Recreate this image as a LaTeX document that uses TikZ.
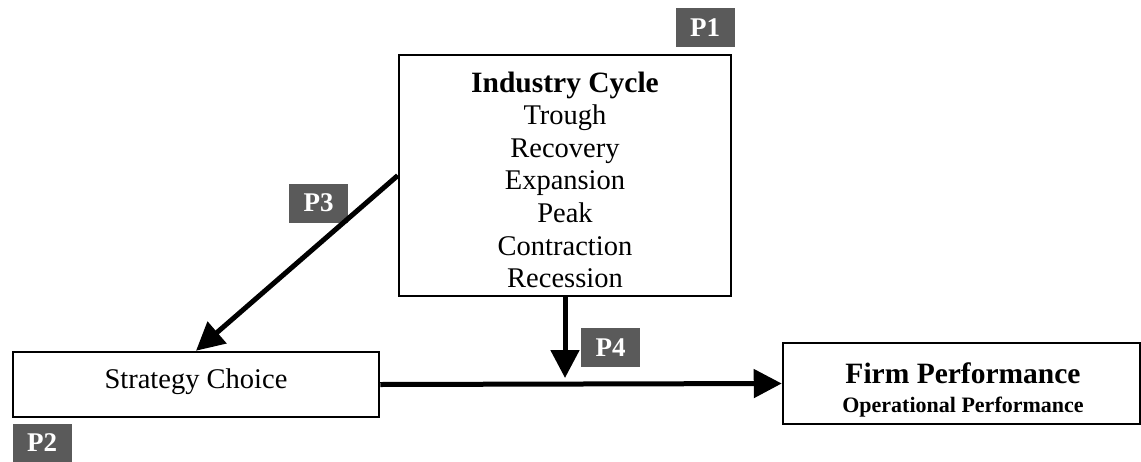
\documentclass[tikz,border=0pt]{standalone}
\usepackage{fontspec}
\setmainfont{Liberation Serif}
\usetikzlibrary{arrows.meta,calc}
\definecolor{pgray}{HTML}{5A5A5A}
\begin{document}
\begin{tikzpicture}[x=1pt,y=-1pt,
  box/.style={draw=black,line width=2.5pt,fill=white,inner sep=0pt},
  txt/.style={anchor=base,inner sep=0pt,font=\fontsize{28.5}{32}\selectfont},
  ttl/.style={anchor=base,inner sep=0pt,font=\fontsize{29.5}{32}\selectfont\bfseries},
  sub/.style={anchor=base,inner sep=0pt,font=\fontsize{22}{24}\selectfont\bfseries},
  plab/.style={fill=pgray,text=white,inner sep=0pt,minimum width=59pt,minimum height=39pt,font=\fontsize{27}{28}\selectfont\bfseries},
  link/.style={line width=5pt,-{Triangle[length=28pt,width=28pt]}}]
\useasboundingbox (0,0) rectangle (1141,461);
% boxes
\node[box,minimum width=332pt,minimum height=241pt] (ic) at (565,175.5) {};
\node[box,minimum width=366pt,minimum height=65pt] (sc) at (196,384.5) {};
\node[box,minimum width=357pt,minimum height=81pt] (fp) at (961.5,383.5) {};
% industry cycle texts
\node[ttl] (t0) at (565,92) {Industry Cycle};
\node[txt] (t1) at (565,124) {Trough};
\node[txt] (t2) at (565,157) {Recovery};
\node[txt] (t3) at (565,189) {Expansion};
\node[txt] (t4) at (565,222) {Peak};
\node[txt] (t5) at (565,255) {Contraction};
\node[txt] (t6) at (565,287) {Recession};
% other texts
\node[txt] (sct) at (196,388) {Strategy Choice};
\node[ttl] (fpt) at (963,383) {Firm Performance};
\node[sub] (fps) at (963,412) {Operational Performance};
% labels
\node[plab] (p1) at (705,27.5) {P1};
\node[plab] (p2) at (42,443) {P2};
\node[plab] (p3) at (318.5,203) {P3};
\node[plab] (p4) at (610.5,347.5) {P4};
% connectors
\coordinate (m) at (565,378);
\draw[link] (ic.west) -- (sc.north);
\draw[link] (ic.south) -- (m);
\draw[link] (sc.east) -- (fp.west);
\end{tikzpicture}
\end{document}
